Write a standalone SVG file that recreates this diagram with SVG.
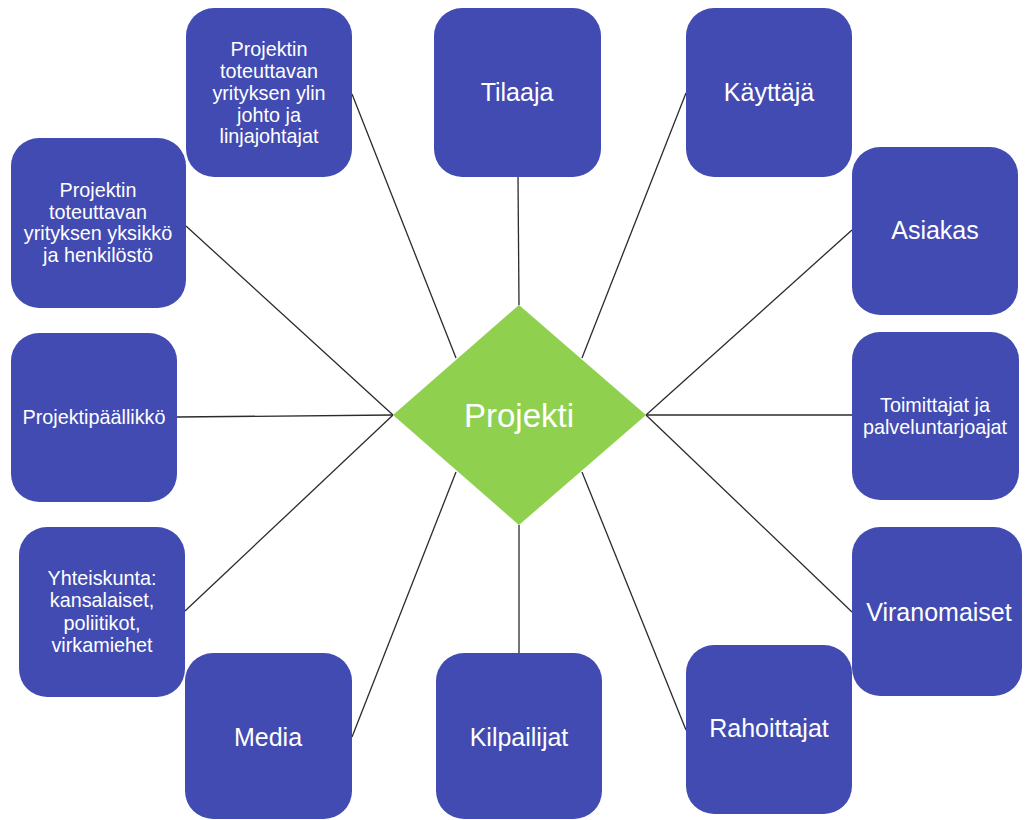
<svg xmlns="http://www.w3.org/2000/svg" width="1025" height="820" viewBox="0 0 1025 820">
  <style>
    .box { fill: #414BB2; }
    .hub { fill: #8FD14F; }
    .link { stroke: #2b2b2b; stroke-width: 1.3; fill: none; }
    text { font-family: "Liberation Sans", Arial, sans-serif; fill: #ffffff; text-anchor: middle; }
    .sm { font-size: 19.8px; }
    .lg { font-size: 25px; }
    .hubtxt { font-size: 33px; }
  </style>
  <rect width="1025" height="820" fill="#ffffff"/>

  <!-- connectors: each box joins the nearest point of the diamond -->
  <g id="connectors">
    <line class="link" x1="352" y1="94" x2="456" y2="358"/>
    <line class="link" x1="518" y1="177" x2="519" y2="305"/>
    <line class="link" x1="686" y1="93" x2="582" y2="358"/>
    <line class="link" x1="852" y1="230" x2="646" y2="415"/>
    <line class="link" x1="852" y1="415" x2="646" y2="415"/>
    <line class="link" x1="852" y1="612" x2="646" y2="415"/>
    <line class="link" x1="686" y1="730" x2="582" y2="472"/>
    <line class="link" x1="519" y1="653" x2="519" y2="525"/>
    <line class="link" x1="352" y1="737" x2="456" y2="472"/>
    <line class="link" x1="185" y1="611" x2="393" y2="415"/>
    <line class="link" x1="177" y1="417" x2="393" y2="415"/>
    <line class="link" x1="186" y1="226" x2="393" y2="415"/>
  </g>

  <g id="projekti">
    <polygon class="hub" points="519,305 646,415 519,525 393,415"/>
    <text class="hubtxt" x="519" y="427">Projekti</text>
  </g>

  <g id="ylin-johto">
    <rect class="box" x="186" y="8" width="166" height="169" rx="28"/>
    <text class="sm" x="269" y="56">Projektin</text>
    <text class="sm" x="269" y="78">toteuttavan</text>
    <text class="sm" x="269" y="100">yrityksen ylin</text>
    <text class="sm" x="269" y="122">johto ja</text>
    <text class="sm" x="269" y="143">linjajohtajat</text>
  </g>

  <g id="tilaaja">
    <rect class="box" x="434" y="8" width="167" height="169" rx="28"/>
    <text class="lg" x="517" y="101">Tilaaja</text>
  </g>

  <g id="kayttaja">
    <rect class="box" x="686" y="8" width="166" height="169" rx="28"/>
    <text class="lg" x="769" y="101">Käyttäjä</text>
  </g>

  <g id="asiakas">
    <rect class="box" x="852" y="147" width="166" height="168" rx="28"/>
    <text class="lg" x="935" y="239">Asiakas</text>
  </g>

  <g id="toimittajat">
    <rect class="box" x="852" y="332" width="167" height="168" rx="28"/>
    <text class="sm" x="935" y="412">Toimittajat ja</text>
    <text class="sm" x="935" y="434">palveluntarjoajat</text>
  </g>

  <g id="viranomaiset">
    <rect class="box" x="852" y="527" width="170" height="169" rx="28"/>
    <text class="lg" x="939" y="621">Viranomaiset</text>
  </g>

  <g id="rahoittajat">
    <rect class="box" x="686" y="645" width="166" height="169" rx="28"/>
    <text class="lg" x="769" y="737">Rahoittajat</text>
  </g>

  <g id="kilpailijat">
    <rect class="box" x="436" y="653" width="166" height="166" rx="28"/>
    <text class="lg" x="519" y="746">Kilpailijat</text>
  </g>

  <g id="media">
    <rect class="box" x="185" y="653" width="167" height="166" rx="28"/>
    <text class="lg" x="268" y="746">Media</text>
  </g>

  <g id="yhteiskunta">
    <rect class="box" x="19" y="527" width="166" height="170" rx="28"/>
    <text class="sm" x="102" y="585">Yhteiskunta:</text>
    <text class="sm" x="102" y="607">kansalaiset,</text>
    <text class="sm" x="102" y="630">poliitikot,</text>
    <text class="sm" x="102" y="652">virkamiehet</text>
  </g>

  <g id="projektipaallikko">
    <rect class="box" x="11" y="333" width="166" height="169" rx="28"/>
    <text class="sm" x="94" y="424">Projektipäällikkö</text>
  </g>

  <g id="yksikko">
    <rect class="box" x="11" y="138" width="175" height="170" rx="28"/>
    <text class="sm" x="98" y="197">Projektin</text>
    <text class="sm" x="98" y="219">toteuttavan</text>
    <text class="sm" x="98" y="240">yrityksen yksikkö</text>
    <text class="sm" x="98" y="262">ja henkilöstö</text>
  </g>
</svg>
